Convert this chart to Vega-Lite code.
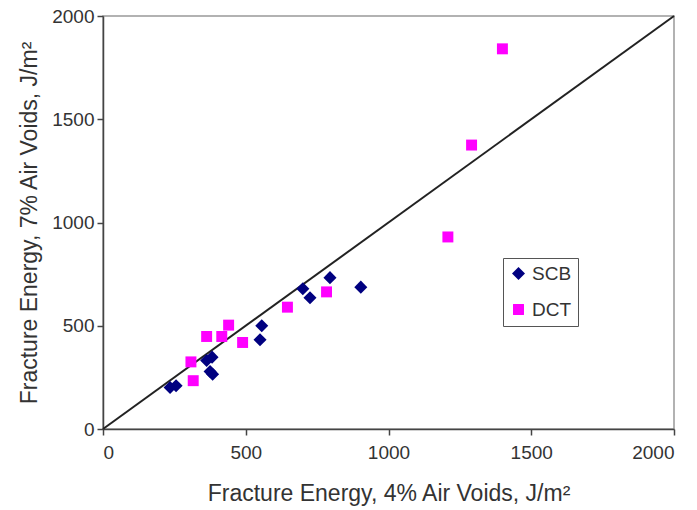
{
  "$schema": "https://vega.github.io/schema/vega-lite/v6.json",
  "width": 571,
  "height": 413,
  "autosize": {"type": "none"},
  "padding": {"left": 103, "top": 16, "right": 23, "bottom": 81},
  "background": "white",
  "config": {
    "font": "Liberation Sans",
    "view": {"stroke": "#999", "strokeWidth": 1.5},
    "axis": {
      "grid": false,
      "domainColor": "#444",
      "domainWidth": 1.5,
      "tickColor": "#444",
      "tickWidth": 1.5,
      "tickSize": 6,
      "labelFont": "Liberation Sans",
      "labelFontSize": 19,
      "labelColor": "#333",
      "titleFont": "Liberation Sans",
      "titleFontSize": 23,
      "titleFontWeight": "normal",
      "titleColor": "#333"
    }
  },
  "datasets": {
    "pts": [
      {"series": "SCB", "fe4": 235, "fe7": 201},
      {"series": "SCB", "fe4": 256, "fe7": 209},
      {"series": "SCB", "fe4": 363, "fe7": 332},
      {"series": "SCB", "fe4": 382, "fe7": 348},
      {"series": "SCB", "fe4": 375, "fe7": 278},
      {"series": "SCB", "fe4": 384, "fe7": 265},
      {"series": "SCB", "fe4": 550, "fe7": 432},
      {"series": "SCB", "fe4": 556, "fe7": 500},
      {"series": "SCB", "fe4": 700, "fe7": 679},
      {"series": "SCB", "fe4": 725, "fe7": 636},
      {"series": "SCB", "fe4": 795, "fe7": 733},
      {"series": "SCB", "fe4": 903, "fe7": 687},
      {"series": "DCT", "fe4": 308, "fe7": 325},
      {"series": "DCT", "fe4": 316, "fe7": 234},
      {"series": "DCT", "fe4": 363, "fe7": 448},
      {"series": "DCT", "fe4": 416, "fe7": 448},
      {"series": "DCT", "fe4": 440, "fe7": 503},
      {"series": "DCT", "fe4": 489, "fe7": 419},
      {"series": "DCT", "fe4": 646, "fe7": 590},
      {"series": "DCT", "fe4": 783, "fe7": 664},
      {"series": "DCT", "fe4": 1208, "fe7": 930},
      {"series": "DCT", "fe4": 1291, "fe7": 1375},
      {"series": "DCT", "fe4": 1399, "fe7": 1841}
    ],
    "diag": [
      {"fe4": 0, "fe7": 0},
      {"fe4": 2000, "fe7": 2000}
    ]
  },
  "layer": [
    {
      "data": {"name": "diag"},
      "mark": {"type": "line", "color": "#222", "strokeWidth": 2},
      "encoding": {
        "x": {"field": "fe4", "type": "quantitative"},
        "y": {"field": "fe7", "type": "quantitative"}
      }
    },
    {
      "data": {"name": "pts"},
      "mark": {"type": "point", "filled": true, "opacity": 1},
      "encoding": {
        "x": {
          "field": "fe4",
          "type": "quantitative",
          "scale": {"domain": [0, 2000], "nice": false},
          "axis": {"values": [0, 500, 1000, 1500, 2000], "format": "d", "title": "Fracture Energy, 4% Air Voids, J/m²", "labelPadding": 8, "titlePadding": 20}
        },
        "y": {
          "field": "fe7",
          "type": "quantitative",
          "scale": {"domain": [0, 2000], "nice": false},
          "axis": {"values": [0, 500, 1000, 1500, 2000], "format": "d", "title": "Fracture Energy, 7% Air Voids, J/m²", "labelPadding": 3, "titlePadding": 10}
        },
        "color": {
          "field": "series",
          "type": "nominal",
          "scale": {"domain": ["SCB", "DCT"], "range": ["#000080", "#FF00FF"]},
          "legend": {
            "orient": "none",
            "legendX": 400,
            "legendY": 242,
            "title": null,
            "strokeColor": "#555",
            "fillColor": "white",
            "padding": 6,
            "rowPadding": 16,
            "labelOffset": 4,
            "labelFont": "Liberation Sans",
            "labelFontSize": 19,
            "labelColor": "#333",
            "symbolOpacity": 1
          }
        },
        "shape": {
          "field": "series",
          "type": "nominal",
          "scale": {"domain": ["SCB", "DCT"], "range": ["diamond", "square"]}
        },
        "size": {
          "field": "series",
          "type": "nominal",
          "scale": {"domain": ["SCB", "DCT"], "range": [170, 120]}
        }
      }
    }
  ]
}
